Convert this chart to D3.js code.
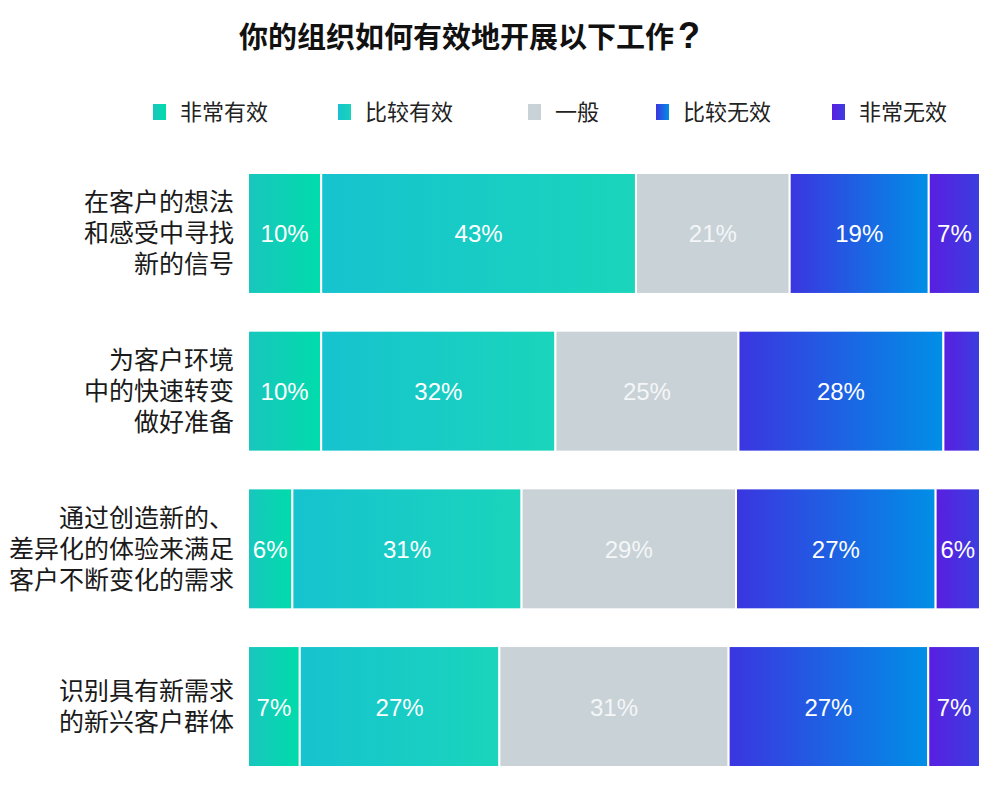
<!DOCTYPE html>
<html>
<head>
<meta charset="utf-8">
<script src="https://cdn.jsdelivr.net/npm/d3@7"></script>
<style>
  html, body { margin: 0; padding: 0; background: #fff; }
  svg { display: block; }
</style>
</head>
<body>
<svg id="chart" width="1000" height="800"></svg>
<script>
// ---- data ----
const titleMain = "你的组织如何有效地开展以下工作";
const titleMark = "?";
const seriesNames = ["非常有效", "比较有效", "一般", "比较无效", "非常无效"];
const categories = [
  ["在客户的想法", "和感受中寻找", "新的信号"],
  ["为客户环境", "中的快速转变", "做好准备"],
  ["通过创造新的、", "差异化的体验来满足", "客户不断变化的需求"],
  ["识别具有新需求", "的新兴客户群体"]
];
const veryEffective    = [10, 10, 6, 7];
const effective        = [43, 32, 31, 27];
const neutral          = [21, 25, 29, 31];
const ineffective      = [19, 28, 27, 27];
const veryIneffective  = [7, 5, 6, 7];

// ---- styles ----
const gradients = [
  ["#19c6be", "#00dcab"],
  ["#16c3cf", "#1ad5bb"],
  ["#c9d2d7", "#c9d2d7"],
  ["#3b35e0", "#008fe6"],
  ["#5a1ee1", "#3a3edf"]
];
const cjk = "'Noto Sans CJK SC', 'Noto Sans', sans-serif";
const latin = "'Liberation Sans', Arial, Helvetica, sans-serif";

const svg = d3.select("#chart");
const defs = svg.append("defs");
gradients.forEach((g, i) => {
  const lg = defs.append("linearGradient").attr("id", "grad" + i)
    .attr("x1", "0%").attr("x2", "100%").attr("y1", "0%").attr("y2", "0%");
  lg.append("stop").attr("offset", "0%").attr("stop-color", g[0]);
  lg.append("stop").attr("offset", "100%").attr("stop-color", g[1]);
});

const keys = seriesNames;
const rows = categories.map((c, i) => ({
  id: i,
  [keys[0]]: veryEffective[i],
  [keys[1]]: effective[i],
  [keys[2]]: neutral[i],
  [keys[3]]: ineffective[i],
  [keys[4]]: veryIneffective[i]
}));

const stacked = d3.stack().keys(keys).offset(d3.stackOffsetExpand)(rows);

const x = d3.scaleLinear().domain([0, 1]).range([248, 980]);
const y = d3.scaleBand().domain(rows.map(r => r.id)).range([173, 767])
  .paddingInner(0.233).paddingOuter(0);

// title
const t = svg.append("text")
  .attr("x", 239).attr("y", 48)
  .attr("font-family", cjk).attr("font-weight", "bold")
  .attr("font-size", 29).attr("fill", "#111");
t.append("tspan").text(titleMain);
t.append("tspan").attr("dx", 4).attr("font-family", latin)
  .attr("font-size", 36).text(titleMark);

// legend
const legendX = [153, 338, 528, 656, 832];
const legend = svg.append("g");
seriesNames.forEach((name, i) => {
  const g = legend.append("g").attr("transform", `translate(${legendX[i]},0)`);
  g.append("rect").attr("x", 0).attr("y", 104).attr("width", 13).attr("height", 16)
    .attr("fill", `url(#grad${i})`);
  g.append("text").attr("x", 27).attr("y", 120)
    .attr("font-family", cjk).attr("font-size", 22).attr("fill", "#222")
    .text(name);
});

// bars
const layer = svg.append("g").selectAll("g").data(stacked).join("g")
  .attr("fill", (d, i) => `url(#grad${i})`);

layer.selectAll("rect").data(d => d).join("rect")
  .attr("x", d => x(d[0]))
  .attr("y", d => y(d.data.id))
  .attr("width", d => x(d[1]) - x(d[0]))
  .attr("height", y.bandwidth())
  .attr("stroke", "#fff").attr("stroke-width", 2);

// value labels
svg.append("g").selectAll("g").data(stacked).join("g")
  .each(function(s) {
    d3.select(this).selectAll("text").data(s).join("text")
      .filter(d => x(d[1]) - x(d[0]) > 40)
      .attr("x", d => (x(d[0]) + x(d[1])) / 2)
      .attr("y", d => y(d.data.id) + y.bandwidth() / 2 + 9)
      .attr("text-anchor", "middle")
      .attr("font-family", latin).attr("font-size", 24)
      .attr("fill", s.key === "一般" ? "#f4f6f7" : "#fff")
      .text(d => d.data[s.key] + "%");
  });

// category labels
const lineH = 31;
svg.append("g").selectAll("text").data(categories).join("text")
  .attr("text-anchor", "end")
  .attr("font-family", cjk).attr("font-size", 25).attr("fill", "#1a1a1a")
  .each(function(lines, i) {
    const cy = y(i) + y.bandwidth() / 2;
    const start = cy - (lines.length - 1) * lineH / 2;
    d3.select(this).selectAll("tspan").data(lines).join("tspan")
      .attr("x", 234)
      .attr("y", (l, j) => start + j * lineH + 9)
      .text(l => l);
  });
</script>
</body>
</html>
